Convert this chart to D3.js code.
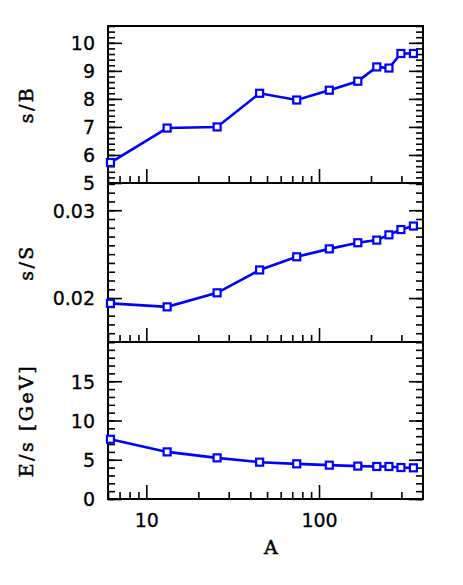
<!DOCTYPE html>
<html>
<head>
<meta charset="utf-8">
<script src="https://cdn.jsdelivr.net/npm/d3@7"></script>
<style>
  body { margin: 0; background: #fff; }
  .tick text { font-family: "DejaVu Sans", sans-serif; font-size: 19px; fill: #000; stroke: #000; stroke-width: 0.3; }
  .tick line { stroke: #000; stroke-width: 1.6; }
  .title { font-family: "DejaVu Serif", serif; font-size: 19px; letter-spacing: 2.5px; fill: #000; stroke: #000; stroke-width: 0.5; }
</style>
</head>
<body>
<script>
const w = 463;
const h = 585;
const left = 108, right = 423;

// mass number A of each point
const massA = [6.2, 13.2, 25.7, 45.3, 74.3, 114.7, 167.7, 216, 254, 298, 352];
// top panel s/B
const sOverB = [5.73, 6.96, 7.0, 8.20, 7.96, 8.31, 8.63, 9.14, 9.10, 9.62, 9.62];
// middle panel s/S
const sOverS = [0.0194, 0.0190, 0.0206, 0.0232, 0.0247, 0.0256, 0.0263, 0.0266, 0.0272, 0.0278, 0.0282];
// bottom panel E/s in GeV
const eOverS = [7.61, 6.0, 5.24, 4.69, 4.48, 4.31, 4.19, 4.14, 4.14, 4.01, 3.97];

const xMajor = [10, 100];
const xMinor = [6, 7, 8, 9, 20, 30, 40, 50, 60, 70, 80, 90, 200, 300];

const panels = [
  { title: 's/B', values: sOverB, top: 26, bottom: 183, domain: [5, 10.6],
    major: [5, 6, 7, 8, 9, 10], minor: d3.range(5, 10.61, 0.2), fmt: d3.format('d') },
  { title: 's/S', values: sOverS, top: 183, bottom: 342, domain: [0.015, 0.0331],
    major: [0.02, 0.03], minor: d3.range(0.015, 0.0331, 0.001), fmt: d3.format('.2f') },
  { title: 'E/s [GeV]', values: eOverS, top: 342, bottom: 499, domain: [0, 20],
    major: [0, 5, 10, 15], minor: d3.range(0, 20.01, 1), fmt: d3.format('d') }
];

const xScale = d3.scaleLog().domain([6, 400]).range([left, right]);

const svg = d3.select('body')
  .append('svg')
  .attr('width', w)
  .attr('height', h);

panels.forEach((p, idx) => {
  const yScale = d3.scaleLinear().domain(p.domain).range([p.bottom, p.top]);
  const g = svg.append('g');
  const last = idx === panels.length - 1;

  // left ticks + labels
  g.append('g')
    .attr('transform', `translate(${left},0)`)
    .call(d3.axisLeft(yScale).tickValues(p.minor).tickSizeInner(-7).tickSizeOuter(0).tickFormat(''))
  g.append('g')
    .attr('transform', `translate(${left},0)`)
    .call(d3.axisLeft(yScale).tickValues(p.major).tickSizeInner(-14).tickSizeOuter(0).tickPadding(13).tickFormat(p.fmt))
    .selectAll('text').attr('dy', '0.36em');

  // right ticks
  g.append('g')
    .attr('transform', `translate(${right},0)`)
    .call(d3.axisRight(yScale).tickValues(p.minor).tickSizeInner(-7).tickSizeOuter(0).tickFormat(''))
  g.append('g')
    .attr('transform', `translate(${right},0)`)
    .call(d3.axisRight(yScale).tickValues(p.major).tickSizeInner(-14).tickSizeOuter(0).tickFormat(''))

  // bottom ticks
  g.append('g')
    .attr('transform', `translate(0,${p.bottom})`)
    .call(d3.axisBottom(xScale).tickValues(xMinor).tickSizeInner(-7).tickSizeOuter(0).tickFormat(''))
  g.append('g')
    .attr('transform', `translate(0,${p.bottom})`)
    .call(d3.axisBottom(xScale).tickValues(xMajor).tickSizeInner(-14).tickSizeOuter(0)
      .tickPadding(15).tickFormat(last ? d3.format('d') : ''))

  g.selectAll('.domain').remove();

  g.append('rect')
    .attr('x', left)
    .attr('y', p.top)
    .attr('width', right - left)
    .attr('height', p.bottom - p.top)
    .attr('fill', 'none')
    .attr('stroke', '#000')
    .attr('stroke-width', 2);

  const pts = massA.map((a, i) => [a, p.values[i]]);

  g.append('path')
    .datum(pts)
    .attr('fill', 'none')
    .attr('stroke', '#0000ff')
    .attr('stroke-width', 2.6)
    .attr('d', d3.line().x(d => xScale(d[0])).y(d => yScale(d[1])));

  g.selectAll('rect.pt')
    .data(pts)
    .enter()
    .append('rect')
    .attr('class', 'pt')
    .attr('x', d => xScale(d[0]) - 3.5)
    .attr('y', d => yScale(d[1]) - 3.5)
    .attr('width', 7)
    .attr('height', 7)
    .attr('fill', '#fff')
    .attr('stroke', '#0000ff')
    .attr('stroke-width', 2.2);

  svg.append('text')
    .attr('class', 'title')
    .attr('transform', `translate(33,${(p.top + p.bottom) / 2}) rotate(-90)`)
    .style('text-anchor', 'middle')
    .text(p.title);
});

svg.append('text')
  .attr('class', 'title')
  .attr('x', 272)
  .attr('y', 554)
  .style('text-anchor', 'middle')
  .text('A');
</script>
</body>
</html>
